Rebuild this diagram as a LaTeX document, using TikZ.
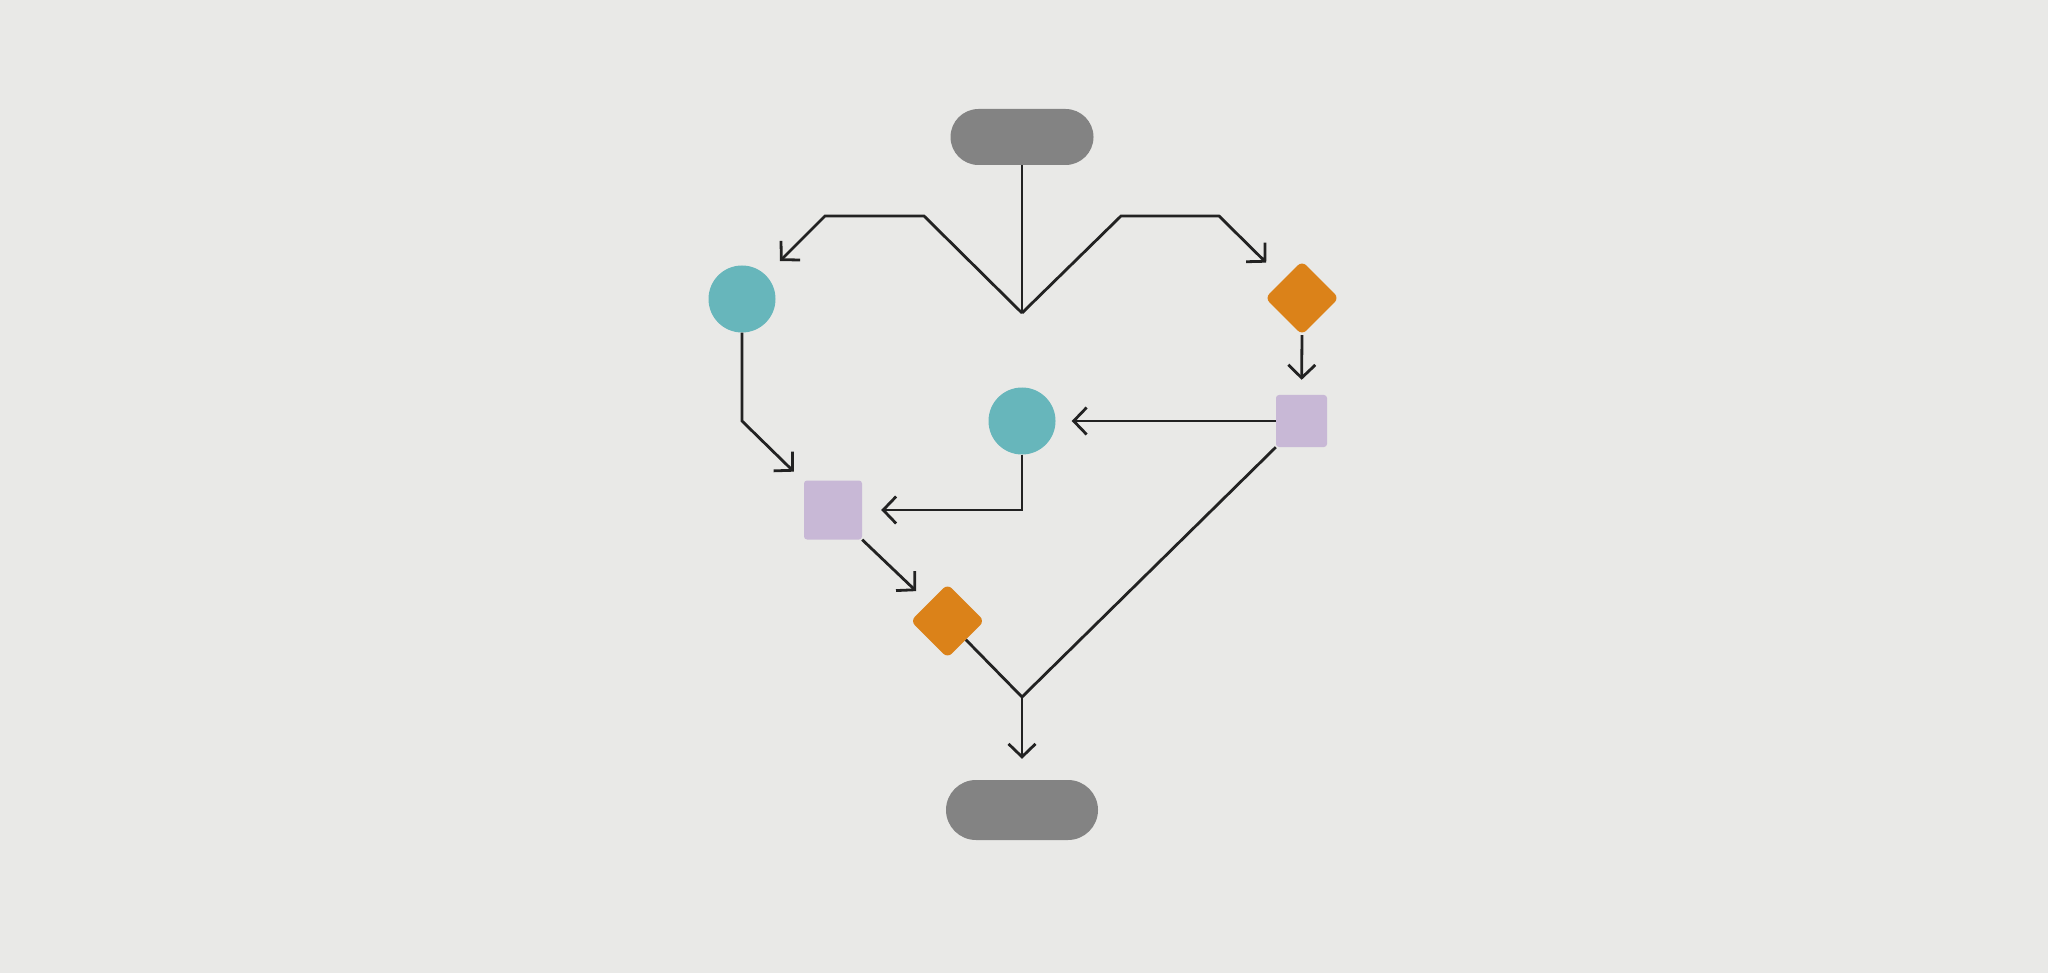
\documentclass[tikz,border=0pt]{standalone}
\usetikzlibrary{arrows.meta,shapes.geometric}
\definecolor{bgc}{HTML}{E9E9E7}
\definecolor{pillc}{HTML}{838383}
\definecolor{tealc}{HTML}{67B6BB}
\definecolor{orangec}{HTML}{DB8219}
\definecolor{lavc}{HTML}{C8B8D6}
\definecolor{linec}{HTML}{222222}
\tikzset{
  pill/.style={fill=pillc, draw=none, rectangle, rounded corners=28pt, inner sep=0pt},
  tcircle/.style={fill=tealc, draw=none, circle, minimum size=67pt, inner sep=0pt},
  odiamond/.style={fill=orangec, draw=none, diamond, minimum size=74pt, inner sep=0pt, rounded corners=6pt},
  lsquare/.style={fill=lavc, draw=none, rectangle, rounded corners=3pt, inner sep=0pt},
  conn/.style={draw=linec, line width=2.8pt, line join=miter},
  arr/.style={conn, -{Straight Barb[length=13pt,width=27pt]}},
}
\begin{document}
\begin{tikzpicture}[x=1pt,y=-1pt]
\fill[bgc] (0,0) rectangle (2048,973);
\useasboundingbox (0,0) rectangle (2048,973);

\node[pill, minimum width=143pt, minimum height=56pt] (top) at (1022,137) {};
\node[pill, minimum width=152pt, minimum height=60pt, rounded corners=30pt] (bot) at (1022,810) {};
\node[tcircle] (lc) at (742,299) {};
\node[tcircle] (mc) at (1022,421) {};
\node[odiamond] (rd) at (1302,298) {};
\node[odiamond] (bd) at (947.5,621) {};
\node[lsquare, minimum width=51pt, minimum height=52pt] (rs) at (1301.5,421) {};
\node[lsquare, minimum width=58pt, minimum height=59pt] (ls) at (833,510) {};

\coordinate (v) at (1022,313);
\coordinate (l1) at (924,216);
\coordinate (l2) at (825,216);
\coordinate (r1) at (1121,216);
\coordinate (r2) at (1219,216);
\coordinate (lb) at (742,421);
\coordinate (mb) at (1022,510);
\coordinate (m) at (1022,697);

\draw[conn] (top.south) -- (v);
\draw[arr, shorten >=20pt] (v) -- (l1) -- (l2) -- (lc);
\draw[arr, shorten >=24pt] (v) -- (r1) -- (r2) -- (rd);
\draw[arr, shorten >=15pt] (rd.south) -- (rs.north);
\draw[arr, shorten >=16pt] (rs.west) -- (mc.east);
\draw[arr, shorten >=19pt] (mc.south) -- (mb) -- (ls.east);
\draw[arr, shorten >=14pt] (lc.south) -- (lb) -- (ls);
\draw[arr, shorten >=17pt] (ls.south east) -- (bd);
\draw[conn] (bd) -- (m);
\draw[conn] (rs.south west) -- (m);
\draw[arr, shorten >=21pt] (m) -- (bot.north);
\end{tikzpicture}
\end{document}
